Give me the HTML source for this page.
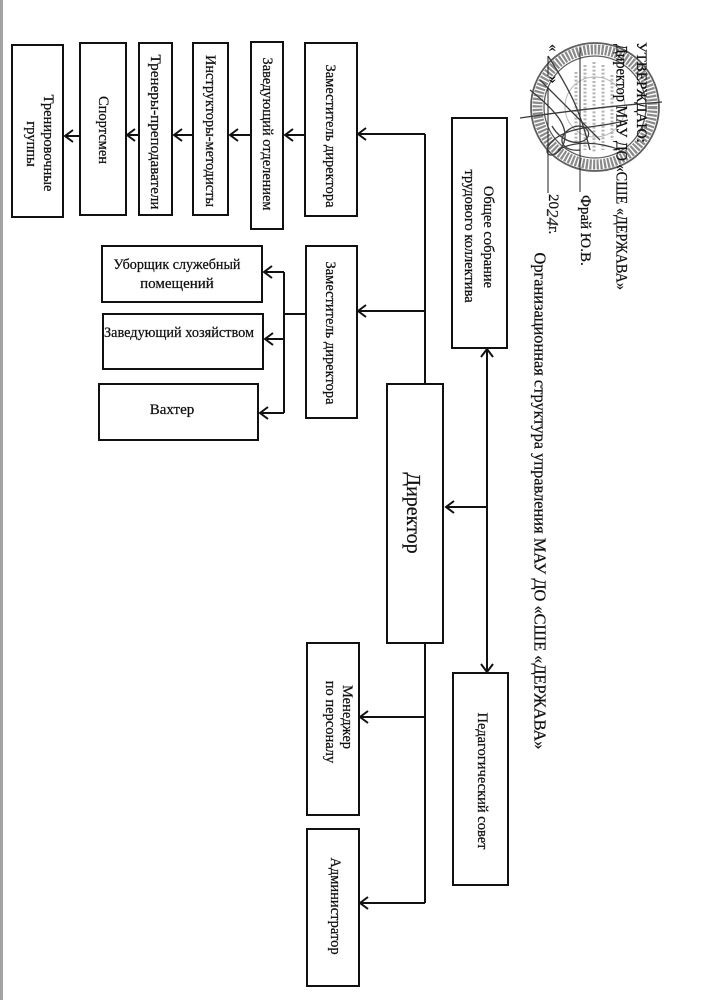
<!DOCTYPE html>
<html><head><meta charset="utf-8"><style>
html,body{margin:0;padding:0;background:#fff;}
svg{display:block;}
text{font-family:"Liberation Serif","Noto Serif CJK SC",serif;fill:#111;stroke:#111;stroke-width:0.25;}
</style></head><body>
<svg width="707" height="1000" viewBox="0 0 707 1000" xmlns="http://www.w3.org/2000/svg">
<rect x="0" y="0" width="707" height="1000" fill="#fff"/>
<rect x="0" y="0" width="3" height="1000" fill="#a3a3a3"/>

<!-- Stamp -->
<g fill="none">
  <circle cx="595" cy="107" r="64" stroke="#5e5e5e" stroke-width="1.8"/>
  <circle cx="595" cy="107" r="57.5" stroke="#8a8a8a" stroke-width="10" stroke-dasharray="2.2 1.4"/>
  <circle cx="595" cy="107" r="51" stroke="#5e5e5e" stroke-width="1.3"/>
  <circle cx="595" cy="107" r="30" stroke="#b8b8b8" stroke-width="1"/>
  <g stroke="#b5b5b5" stroke-width="3" stroke-dasharray="2 1.8">
    <line x1="612" y1="75" x2="612" y2="140"/>
    <line x1="603" y1="65" x2="603" y2="150"/>
    <line x1="594" y1="62" x2="594" y2="152"/>
    <line x1="585" y1="65" x2="585" y2="150"/>
    <line x1="576" y1="72" x2="576" y2="142"/>
  </g>
  <g stroke="#3c3c3c" stroke-width="1.3">
    <path d="M520 118 C560 112 610 106 662 102"/>
    <path d="M530 90 C555 110 575 130 560 150 C548 162 540 150 556 138 C575 125 600 128 628 120"/>
    <path d="M540 80 L600 140"/>
    <path d="M552 126 C560 140 575 146 585 140 C596 132 580 118 566 132 C556 142 566 152 580 150"/>
    <path d="M548 56 C570 90 580 110 590 150"/>
    <path d="M558 150 C575 140 600 142 620 150"/>
  </g>
</g>

<!-- Header text -->
<text x="641" y="42" transform="rotate(90 641 42)" font-size="15" dominant-baseline="central">УТВЕРЖДАЮ:</text>
<text x="621" y="44" transform="rotate(90 621 44)" font-size="15.5" dominant-baseline="central" textLength="246" lengthAdjust="spacingAndGlyphs">Директор МАУ ДО «СШЕ «ДЕРЖАВА»</text>
<line x1="580" y1="48" x2="580" y2="192" stroke="#222" stroke-width="1"/>
<text x="585" y="195" transform="rotate(90 585 195)" font-size="15" dominant-baseline="central">Фрай Ю.В.</text>
<text x="553" y="44" transform="rotate(90 553 44)" font-size="15" dominant-baseline="central">«</text>
<line x1="548" y1="56" x2="548" y2="76" stroke="#222" stroke-width="1"/>
<text x="553" y="76" transform="rotate(90 553 76)" font-size="15" dominant-baseline="central">»</text>
<line x1="548" y1="87" x2="548" y2="193" stroke="#222" stroke-width="1"/>
<text x="553" y="194" transform="rotate(90 553 194)" font-size="15" dominant-baseline="central">20<tspan font-style="italic" font-size="17" fill="#333">24</tspan>г.</text>
<text x="540" y="501" transform="rotate(90 540 501)" font-size="16.5" text-anchor="middle" dominant-baseline="central" textLength="497" lengthAdjust="spacingAndGlyphs">Организационная структура управления МАУ ДО «СШЕ «ДЕРЖАВА»</text>

<!-- Boxes -->
<g fill="#fff" stroke="#111" stroke-width="2">
  <rect x="12" y="45" width="51" height="172"/>
  <rect x="80" y="43" width="46" height="172"/>
  <rect x="139" y="43" width="33" height="172"/>
  <rect x="193" y="43" width="35" height="172"/>
  <rect x="251" y="42" width="32" height="187"/>
  <rect x="305" y="43" width="52" height="173"/>
  <rect x="306" y="246" width="51" height="172"/>
  <rect x="102" y="246" width="160" height="56"/>
  <rect x="103" y="314" width="160" height="55"/>
  <rect x="99" y="384" width="159" height="56"/>
  <rect x="387" y="384" width="56" height="259"/>
  <rect x="452" y="118" width="55" height="230"/>
  <rect x="453" y="673" width="55" height="212"/>
  <rect x="307" y="643" width="52" height="172"/>
  <rect x="307" y="829" width="52" height="157"/>
</g>

<!-- Connectors -->
<g stroke="#111" stroke-width="2" fill="none">
  <line x1="425" y1="134" x2="425" y2="384"/>
  <line x1="425" y1="134" x2="358" y2="134"/>
  <path d="M366 128 L358 134 L366 140"/>
  <line x1="425" y1="311" x2="358" y2="311"/>
  <path d="M366 305 L358 311 L366 317"/>

  <line x1="305" y1="135" x2="285" y2="135"/>
  <path d="M293 129 L285 135 L293 141"/>
  <line x1="251" y1="135" x2="230" y2="135"/>
  <path d="M238 129 L230 135 L238 141"/>
  <line x1="193" y1="135" x2="174" y2="135"/>
  <path d="M182 129 L174 135 L182 141"/>
  <line x1="139" y1="135" x2="127" y2="135"/>
  <path d="M135 129 L127 135 L135 141"/>
  <line x1="80" y1="136" x2="65" y2="136"/>
  <path d="M73 130 L65 136 L73 142"/>

  <line x1="306" y1="314" x2="284" y2="314"/>
  <line x1="284" y1="272" x2="284" y2="413"/>
  <line x1="284" y1="272" x2="264" y2="272"/>
  <path d="M272 266 L264 272 L272 278"/>
  <line x1="284" y1="339" x2="265" y2="339"/>
  <path d="M273 333 L265 339 L273 345"/>
  <line x1="284" y1="413" x2="260" y2="413"/>
  <path d="M268 407 L260 413 L268 419"/>

  <line x1="425" y1="643" x2="425" y2="903"/>
  <line x1="425" y1="717" x2="360" y2="717"/>
  <path d="M368 711 L360 717 L368 723"/>
  <line x1="425" y1="903" x2="360" y2="903"/>
  <path d="M368 897 L360 903 L368 909"/>

  <line x1="487" y1="349" x2="487" y2="672"/>
  <path d="M481 357 L487 349 L493 357"/>
  <path d="M481 664 L487 672 L493 664"/>
  <line x1="487" y1="507" x2="446" y2="507"/>
  <path d="M454 501 L446 507 L454 513"/>
</g>

<!-- Box labels (rotated) -->
<g font-size="14.5" text-anchor="middle" dominant-baseline="central">
  <text x="330" y="136" transform="rotate(90 330 136)" textLength="143" lengthAdjust="spacingAndGlyphs">Заместитель директора</text>
  <text x="267" y="134" transform="rotate(90 267 134)" textLength="153" lengthAdjust="spacingAndGlyphs">Заведующий отделением</text>
  <text x="210" y="131" transform="rotate(90 210 131)" textLength="152" lengthAdjust="spacingAndGlyphs">Инструкторы-методисты</text>
  <text x="155" y="132" transform="rotate(90 155 132)" textLength="155" lengthAdjust="spacingAndGlyphs">Тренеры-преподаватели</text>
  <text x="103" y="130" transform="rotate(90 103 130)">Спортсмен</text>
  <text x="48" y="143" transform="rotate(90 48 143)">Тренировочные</text>
  <text x="31" y="144" transform="rotate(90 31 144)">группы</text>
  <text x="330" y="333" transform="rotate(90 330 333)" textLength="143" lengthAdjust="spacingAndGlyphs">Заместитель директора</text>
  <text x="488" y="237" transform="rotate(90 488 237)">Общее собрание</text>
  <text x="469" y="236" transform="rotate(90 469 236)">трудового коллектива</text>
  <text x="413" y="513" transform="rotate(90 413 513)" font-size="20">Директор</text>
  <text x="482" y="781" transform="rotate(90 482 781)">Педагогический совет</text>
  <text x="347" y="717" transform="rotate(90 347 717)">Менеджер</text>
  <text x="330" y="722" transform="rotate(90 330 722)">по персоналу</text>
  <text x="335" y="906" transform="rotate(90 335 906)">Администратор</text>
</g>

<!-- Horizontal labels -->
<g font-size="15" text-anchor="middle" dominant-baseline="central">
  <text x="177" y="265" textLength="127" lengthAdjust="spacingAndGlyphs">Уборщик служебный</text>
  <text x="177" y="284">помещений</text>
  <text x="179" y="333" textLength="150" lengthAdjust="spacingAndGlyphs">Заведующий хозяйством</text>
  <text x="172" y="410">Вахтер</text>
</g>
</svg>
</body></html>
